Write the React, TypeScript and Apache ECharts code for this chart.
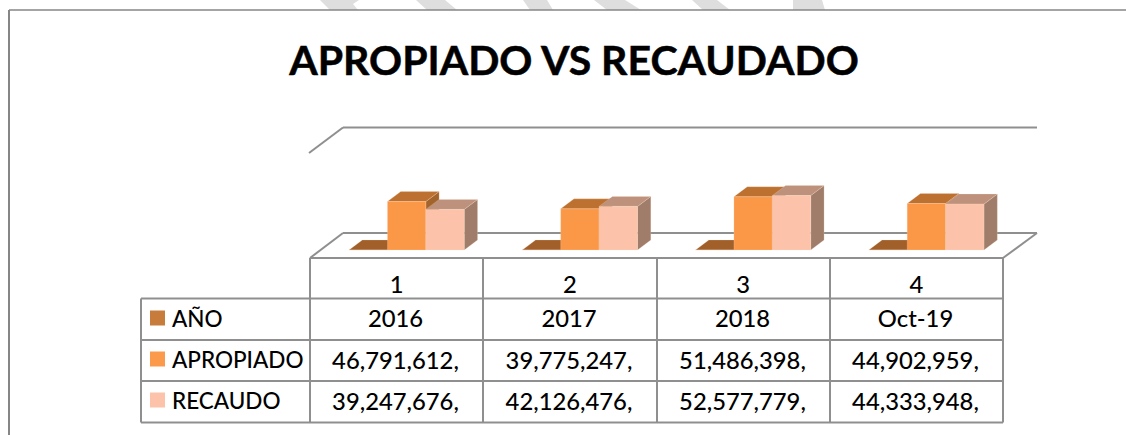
import React, { useEffect, useRef } from "react";
import * as echarts from "echarts";

const titleText = "APROPIADO VS RECAUDADO";
const categories = ["1", "2", "3", "4"];
const anoLabels = ["2016", "2017", "2018", "Oct-19"];
const apropiadoLabels = ["46,791,612,", "39,775,247,", "51,486,398,", "44,902,959,"];
const recaudoLabels = ["39,247,676,", "42,126,476,", "52,577,779,", "44,333,948,"];
const anoValues = [2016, 2017, 2018, 2019];
const apropiadoValues = [46791612, 39775247, 51486398, 44902959];
const recaudoValues = [39247676, 42126476, 52577779, 44333948];

const FONT = "Lato, Carlito, Calibri, sans-serif";
const LINE = "#8f8f8f";
const WIDTH = 1126;
const HEIGHT = 435;

const palettes = [
  { legend: "#c77c3c", front: "#c77c3c", top: "#a15f2a", side: "#8a5224" },
  { legend: "#fb9a4a", front: "#fb9848", top: "#bd7130", side: "#a3642c" },
  { legend: "#fcc3aa", front: "#fcc3aa", top: "#bd917b", side: "#a07c6b" },
];

const BAR_START = -0.2747;
const BAR_STEP = 0.2217;
const DEPTH_X = 13.3;
const DEPTH_Y = -10;

const renderBar3d = (params: any, api: any) => {
  const s = params.seriesIndex;
  const pal = palettes[s];
  const cat = api.value(0);
  const val = api.value(1);
  const band = api.size([1, 0])[0];
  const [cx, y0] = api.coord([cat, 0]);
  const [, y1] = api.coord([cat, val]);
  const x0 = cx + band * (BAR_START + BAR_STEP * s);
  const x1 = x0 + band * BAR_STEP;
  const poly = (points: number[][], fill: string) => ({
    type: "polygon",
    silent: true,
    shape: { points },
    style: { fill, stroke: "rgba(255,225,200,0.35)", lineWidth: 0.6 },
  });
  return {
    type: "group",
    children: [
      poly(
        [
          [x1, y1],
          [x1 + DEPTH_X, y1 + DEPTH_Y],
          [x1 + DEPTH_X, y0 + DEPTH_Y],
          [x1, y0],
        ],
        pal.side,
      ),
      poly(
        [
          [x0, y1],
          [x0 + DEPTH_X, y1 + DEPTH_Y],
          [x1 + DEPTH_X, y1 + DEPTH_Y],
          [x1, y1],
        ],
        pal.top,
      ),
      poly(
        [
          [x0, y0],
          [x0, y1],
          [x1, y1],
          [x1, y0],
        ],
        pal.front,
      ),
    ],
  };
};

const toSeries = (name: string, values: number[], i: number) => ({
  name,
  type: "custom",
  renderItem: renderBar3d,
  coordinateSystem: "cartesian2d",
  clip: false,
  silent: true,
  z: 3,
  encode: { x: 0, y: 1 },
  itemStyle: { color: palettes[i].legend },
  data: values.map((v, c) => [c, v]),
});

const line = (x1: number, y1: number, x2: number, y2: number, lineWidth = 2, stroke = LINE) => ({
  type: "line",
  silent: true,
  z: 1,
  shape: { x1, y1, x2, y2 },
  style: { stroke, lineWidth },
});

const watermark = [
  [[320, 0], [359, 0], [353, 4], [358, 10], [330, 10]],
  [[416, 0], [445, 0], [457, 10], [427, 10]],
  [[523, 0], [547, 0], [553, 10], [530, 10]],
  [[594, 0], [625, 0], [641, 10], [607, 10]],
  [[692, 0], [717, 0], [730, 10], [703, 10]],
  [[793, 0], [822, 0], [825, 10], [793, 10]],
];

const colX = [141, 310, 483, 657, 830, 1003];
const rowY = [258, 298.5, 340, 381, 422.5];

const cellText = (text: string, x: number, y: number) => ({
  type: "text",
  silent: true,
  z: 2,
  x,
  y,
  style: {
    text,
    fill: "#000",
    font: `500 23.8px ${FONT}`,
    align: "center",
    verticalAlign: "middle",
  },
});

const buildGraphics = () => {
  const out: any[] = [];
  watermark.forEach((points) =>
    out.push({ type: "polygon", silent: true, z: 0, shape: { points }, style: { fill: "#dedede" } }),
  );
  // page frame
  out.push(line(9, 10, WIDTH, 10, 1.5, "#868686"));
  out.push(line(9, 10, 9, HEIGHT, 2, "#868686"));
  // back wall and floor of the 3D plot
  out.push(line(309, 153, 343, 127.5));
  out.push(line(343, 127.5, 1037, 127.5));
  out.push(line(310, 258, 343, 233));
  out.push(line(343, 233, 1037, 233));
  out.push(line(1037, 233, 1003, 258));
  // data table
  out.push(line(310, rowY[0], colX[5], rowY[0]));
  rowY.slice(1).forEach((y) => out.push(line(colX[0], y, colX[5], y)));
  colX.forEach((x, i) => out.push(line(x, i === 0 ? rowY[1] : rowY[0], x, rowY[4])));
  [anoLabels, apropiadoLabels, recaudoLabels].forEach((labels, r) =>
    labels.forEach((t, c) =>
      out.push(cellText(t, (colX[c + 1] + colX[c + 2]) / 2 - 1, (rowY[r + 1] + rowY[r + 2]) / 2 - 1)),
    ),
  );
  return out;
};

export default function App() {
  const ref = useRef<HTMLDivElement>(null);
  useEffect(() => {
    const chart = echarts.init(ref.current!, undefined, { renderer: "svg" });
    chart.setOption({
      animation: false,
      backgroundColor: "#fff",
      title: {
        text: titleText,
        left: 569,
        top: 34,
        textAlign: "center",
        textStyle: {
          fontFamily: FONT,
          fontWeight: "bold",
          fontSize: 41,
          color: "#000",
          textBorderColor: "#000",
          textBorderWidth: 0.5,
        },
      },
      legend: {
        orient: "vertical",
        left: 150,
        top: 306.5,
        itemWidth: 15,
        itemHeight: 15,
        itemGap: 18,
        padding: 0,
        selectedMode: false,
        icon: "rect",
        textStyle: {
          fontFamily: FONT,
          fontWeight: 500,
          fontSize: 22.5,
          lineHeight: 20,
          color: "#000",
          padding: [0, 0, 0, 2],
        },
        data: ["AÑO", "APROPIADO", "RECAUDO"],
      },
      grid: { left: 310, top: 146.5, width: 693, height: 103.5 },
      xAxis: {
        type: "category",
        data: categories,
        axisLine: { show: false },
        axisTick: { show: false },
        axisLabel: { margin: 22, fontFamily: FONT, fontWeight: 500, fontSize: 23.8, color: "#000" },
      },
      yAxis: { type: "value", min: 0, max: 100000000, show: false },
      series: [
        toSeries("AÑO", anoValues, 0),
        toSeries("APROPIADO", apropiadoValues, 1),
        toSeries("RECAUDO", recaudoValues, 2),
      ],
      graphic: { elements: buildGraphics() },
    });
    return () => chart.dispose();
  }, []);
  return (
    <div
      ref={ref}
      style={{ position: "absolute", left: 0, top: 0, width: WIDTH, height: HEIGHT }}
    />
  );
}
